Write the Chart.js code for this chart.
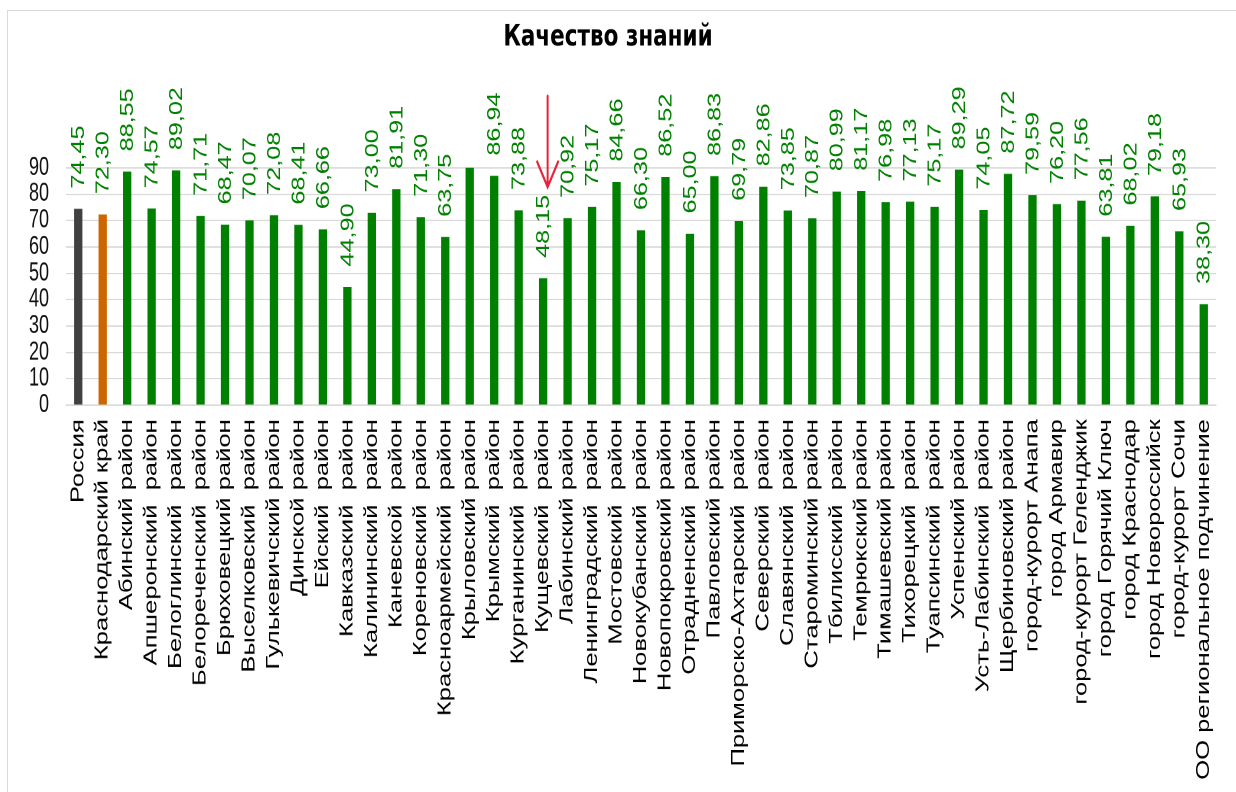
<!DOCTYPE html>
<html lang="ru">
<head>
<meta charset="utf-8">
<title>Качество знаний</title>
<script src="https://cdn.jsdelivr.net/npm/chart.js@4.4.1/dist/chart.umd.min.js"></script>
<style>
  html,body{margin:0;padding:0;background:#fff;}
  body{width:1236px;height:792px;overflow:hidden;position:relative;}
  #frame{position:absolute;left:7px;top:10px;width:1300px;height:900px;border:1px solid #d9d9d9;}
  #wrap{position:absolute;left:0;top:0;width:1236px;height:566px;transform:scaleY(1.3993);transform-origin:0 0;}
</style>
</head>
<body>
<div id="frame"></div>
<div id="wrap"><canvas id="chart"></canvas></div>
<script>
const chartTitle = 'Качество знаний';

const categories = [
  'Россия',
  'Краснодарский край',
  'Абинский район',
  'Апшеронский  район',
  'Белоглинский  район',
  'Белореченский  район',
  'Брюховецкий район',
  'Выселковский  район',
  'Гулькевичский район',
  'Динской район',
  'Ейский  район',
  'Кавказский  район',
  'Калининский  район',
  'Каневской  район',
  'Кореновский  район',
  'Красноармейский  район',
  'Крыловский район',
  'Крымский  район',
  'Курганинский  район',
  'Кущевский  район',
  'Лабинский район',
  'Ленинградский  район',
  'Мостовский  район',
  'Новокубанский  район',
  'Новопокровский район',
  'Отрадненский  район',
  'Павловский район',
  'Приморско-Ахтарский  район',
  'Северский  район',
  'Славянский  район',
  'Староминский район',
  'Тбилисский  район',
  'Темрюкский район',
  'Тимашевский район',
  'Тихорецкий  район',
  'Туапсинский  район',
  'Успенский район',
  'Усть-Лабинский  район',
  'Щербиновский район',
  'город-курорт Анапа',
  'город Армавир',
  'город-курорт Геленджик',
  'город Горячий Ключ',
  'город Краснодар',
  'город Новороссийск',
  'город-курорт Сочи',
  'ОО региональное подчинение'
];

const qualityValues = [
  74.45, 72.30, 88.55, 74.57, 89.02, 71.71, 68.47, 70.07, 72.08, 68.41,
  66.66, 44.90, 73.00, 81.91, 71.30, 63.75, 90.60, 86.94, 73.88, 48.15,
  70.92, 75.17, 84.66, 66.30, 86.52, 65.00, 86.83, 69.79, 82.86, 73.85,
  70.87, 80.99, 81.17, 76.98, 77.13, 75.17, 89.29, 74.05, 87.72, 79.59,
  76.20, 77.56, 63.81, 68.02, 79.18, 65.93, 38.30
];

const yTicks = [0, 10, 20, 30, 40, 50, 60, 70, 80, 90];

const FONT = "'Liberation Sans', Arial, sans-serif";
const GREEN = '#008000';

function fmt(v){ return v.toFixed(2).replace('.', ','); }

const valueLabels = {
  id: 'valueLabels',
  afterDatasetsDraw(chart){
    const ctx = chart.ctx;
    const yScale = chart.scales.y;
    const meta = chart.getDatasetMeta(0);
    ctx.save();
    ctx.font = '18px ' + FONT;
    ctx.fillStyle = GREEN;
    ctx.textAlign = 'left';
    ctx.textBaseline = 'middle';
    meta.data.forEach((bar, i) => {
      const v = qualityValues[i];
      if (v > yScale.max) return;
      ctx.save();
      ctx.translate(bar.x + 1, bar.y - 14.5);
      ctx.rotate(-Math.PI / 2);
      ctx.fillText(fmt(v), 0, 0);
      ctx.restore();
    });
    ctx.restore();
  }
};

const arrowMark = {
  id: 'arrowMark',
  afterDraw(chart){
    const ctx = chart.ctx;
    const yScale = chart.scales.y;
    const bar = chart.getDatasetMeta(0).data[categories.indexOf('Кущевский  район')];
    if (!bar) return;
    const x = bar.x + 4.5;
    const yTop = yScale.getPixelForValue(117.2);
    const yTip = yScale.getPixelForValue(82.7);
    const yWing = yScale.getPixelForValue(92.3);
    ctx.save();
    ctx.strokeStyle = '#E5243B';
    ctx.lineWidth = 2;
    ctx.lineCap = 'round';
    ctx.beginPath();
    ctx.moveTo(x, yTop); ctx.lineTo(x, yTip);
    ctx.moveTo(x - 10.5, yWing); ctx.lineTo(x, yTip); ctx.lineTo(x + 10.5, yWing);
    ctx.stroke();
    ctx.restore();
  }
};

new Chart(document.getElementById('chart'), {
  type: 'bar',
  data: {
    labels: categories,
    datasets: [{
      label: chartTitle,
      data: qualityValues,
      backgroundColor: (c) => c.dataIndex === 0 ? '#404040' : (c.dataIndex === 1 ? '#CC6600' : GREEN),
      barPercentage: 0.34,
      categoryPercentage: 1.0,
      borderWidth: 0
    }]
  },
  options: {
    responsive: true,
    maintainAspectRatio: false,
    animation: false,
    devicePixelRatio: 2,
    layout: { padding: { left: 0, right: 20, top: 0, bottom: 0 } },
    plugins: {
      legend: { display: false },
      tooltip: { enabled: false },
      title: {
        display: true,
        text: chartTitle,
        color: '#000',
        font: { family: "'DejaVu Sans', sans-serif", size: 21.5, weight: 'bold', lineHeight: 1.2 },
        padding: { top: 13.8, bottom: 80.3 }
      }
    },
    scales: {
      x: {
        grid: { display: false, drawTicks: false },
        border: { display: true, color: '#d9d9d9', width: 1 },
        ticks: {
          autoSkip: false,
          maxRotation: 90,
          minRotation: 90,
          padding: 10,
          color: '#000',
          font: { family: FONT, size: 18.3 }
        },
        afterFit: (s) => { s.height = 566 - 289.6; }
      },
      y: {
        min: 0,
        max: 90,
        afterBuildTicks: (s) => { s.ticks = yTicks.map(v => ({ value: v })); },
        grid: { color: '#d9d9d9', drawTicks: false, lineWidth: 1 },
        border: { display: false },
        ticks: {
          autoSkip: false,
          padding: 17,
          color: '#111',
          font: { family: FONT, size: 18 }
        },
        afterFit: (s) => { s.width = 66; }
      }
    }
  },
  plugins: [valueLabels, arrowMark]
});
</script>
</body>
</html>
